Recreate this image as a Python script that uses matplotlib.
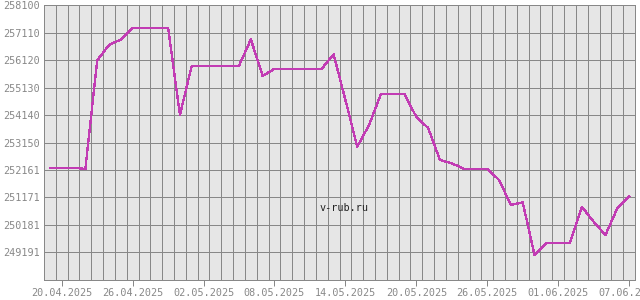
import datetime as dt
import matplotlib
matplotlib.use("Agg")
import matplotlib.pyplot as plt
import matplotlib.dates as mdates

# ─── Data ─────────────────────────────────────────────────────────────────────

START = dt.date(2025, 4, 19)
VALUES = [
    252243, 252243, 252243, 252196, 256110, 256660, 256858, 257283, 257283, 257283,
    257283, 254140, 255915, 255915, 255915, 255915, 255915, 256865, 255544, 255807,
    255807, 255807, 255807, 255807, 256325, 254680, 253000, 253780, 254885, 254885,
    254885, 254070, 253672, 252520, 252401, 252207, 252207, 252207, 251800, 250900,
    250997, 249100, 249543, 249543, 249543, 250839, 250299, 249820, 250781, 251199,
]
DATES = [START + dt.timedelta(days=i) for i in range(len(VALUES))]

Y_TICKS  = [248201, 249191, 250181, 251171, 252161, 253150, 254140, 255130, 256120, 257110, 258100]
Y_LABELS = ["", "249191", "250181", "251171", "252161", "253150", "254140",
            "255130", "256120", "257110", "258100"]
X_LABEL_DATES = ["20.04.2025", "26.04.2025", "02.05.2025", "08.05.2025", "14.05.2025",
                 "20.05.2025", "26.05.2025", "01.06.2025", "07.06.2025"]

LINE_COLOR = "#c23cb4"
GRID_COLOR = "#888888"
FONT       = "DejaVu Sans Mono"
PX         = 0.72  # one pixel in points at dpi 100

# ─── Plot ─────────────────────────────────────────────────────────────────────

fig = plt.figure(figsize=(6.4, 3.0), dpi=100, facecolor="white")
ax = fig.add_axes([44 / 640, 20 / 300, 591 / 640, 275 / 300])
ax.set_facecolor("#e6e6e6")

xnum = mdates.date2num(DATES)
ax.plot(xnum, VALUES, color=LINE_COLOR, lw=1.3 * PX, antialiased=False, zorder=3)

# daily vertical grid, offset half a day from the labels
day0 = mdates.date2num(dt.date(2025, 4, 20))
for k in range(-1, 49):
    ax.axvline(day0 + k + 0.5, color=GRID_COLOR, lw=PX, zorder=1, antialiased=False)
for yv in Y_TICKS:
    ax.axhline(yv, color=GRID_COLOR, lw=PX, zorder=1, antialiased=False)

ax.set_xlim(day0 - 1.5, day0 + 48.5)
ax.set_ylim(Y_TICKS[0], Y_TICKS[-1])

ax.set_yticks(Y_TICKS)
ax.set_yticklabels(Y_LABELS, fontfamily=FONT, fontsize=7.3, color="#888888")
ax.tick_params(axis="y", length=0, pad=3)

xt = [mdates.date2num(dt.datetime.strptime(s, "%d.%m.%Y")) for s in X_LABEL_DATES]
ax.set_xticks(xt)
ax.set_xticklabels(X_LABEL_DATES, fontfamily=FONT, fontsize=7.3, color="#888888")
ax.tick_params(axis="x", length=4, width=PX, color=GRID_COLOR, pad=2)

for s in ax.spines.values():
    s.set_color(GRID_COLOR)
    s.set_linewidth(PX)

ax.text(0.507, 0.263, "v-rub.ru", transform=ax.transAxes, ha="center", va="center",
        fontfamily=FONT, fontsize=7.3, color="#222222", zorder=4)

fig.savefig("out.png", dpi=100, facecolor=fig.get_facecolor())
